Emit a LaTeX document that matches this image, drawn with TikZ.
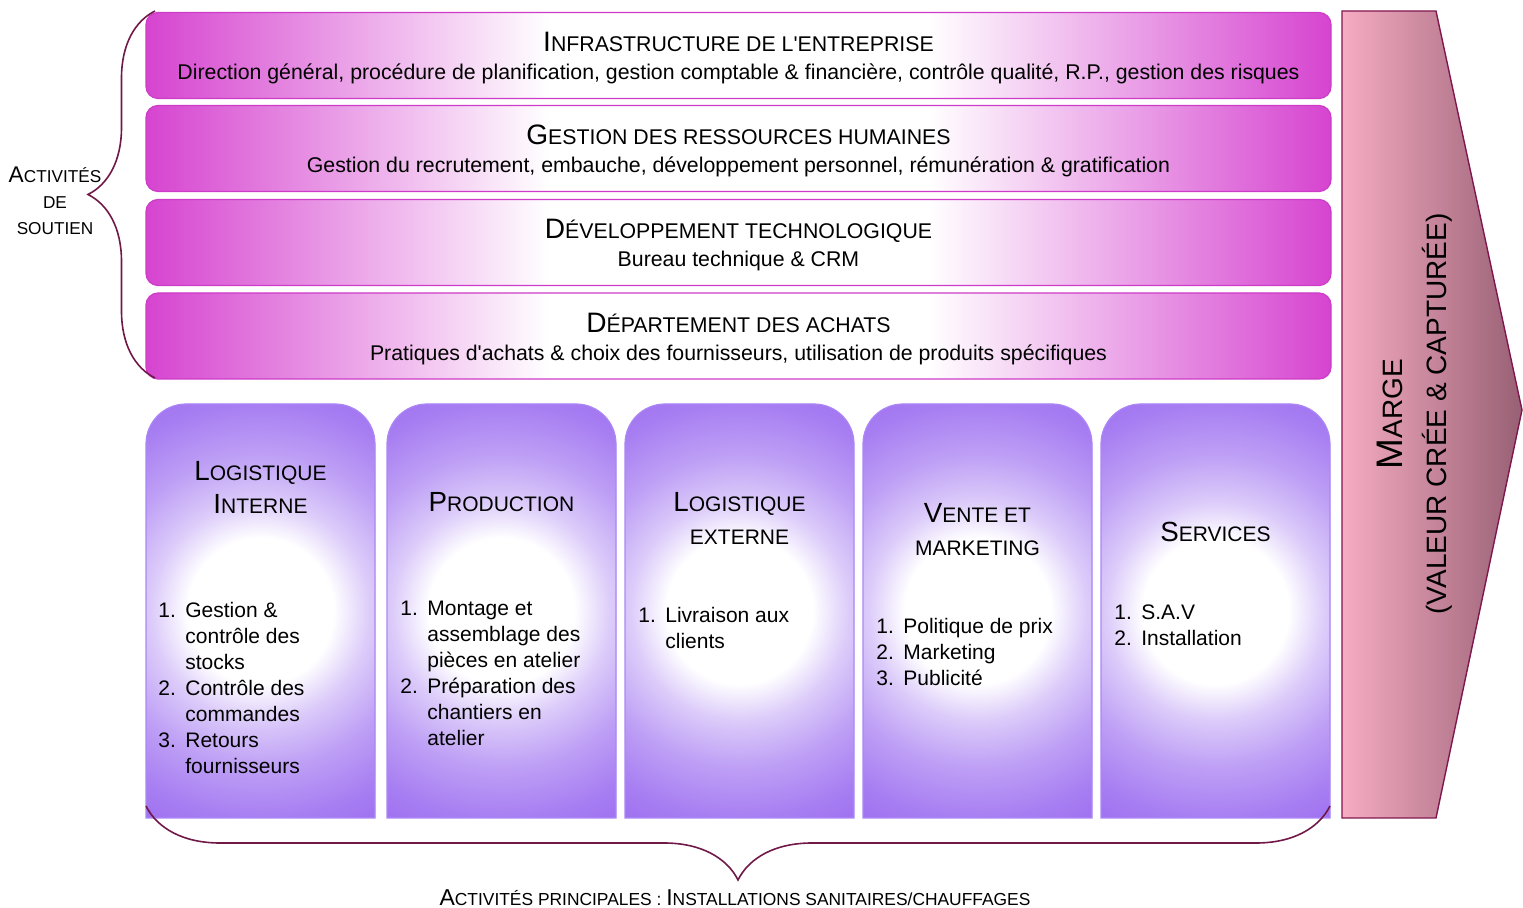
\documentclass[tikz,border=0pt]{standalone}
\usepackage{fontspec}
\usepackage{graphicx}
\setmainfont{Liberation Sans}
\usetikzlibrary{decorations.pathreplacing}

\definecolor{bandmag}{RGB}{214,68,208}
\definecolor{bandline}{RGB}{205,60,200}
\definecolor{colpurple}{RGB}{155,108,240}
\definecolor{colline}{RGB}{172,135,246}
\definecolor{margeL}{RGB}{246,172,194}
\definecolor{margeR}{RGB}{152,96,116}
\definecolor{margeline}{RGB}{128,22,78}
\definecolor{bracecol}{RGB}{112,24,72}

\pgfdeclarehorizontalshading{bandshade}{100bp}{color(0bp)=(bandmag); color(25bp)=(bandmag); color(42bp)=(white); color(58bp)=(white); color(75bp)=(bandmag); color(100bp)=(bandmag)}
\pgfdeclarehorizontalshading{margeshade}{100bp}{color(0bp)=(margeL); color(25bp)=(margeL); color(75bp)=(margeR); color(100bp)=(margeR)}
\pgfdeclareradialshading{colglow}{\pgfpointorigin}{color(0bp)=(white); color(7bp)=(white); color(10.5bp)=(colpurple!35!white); color(15bp)=(colpurple!65!white); color(20bp)=(colpurple!88!white); color(24bp)=(colpurple); color(50bp)=(colpurple)}

% big first letter of the fake small caps
\newcommand\capfirst[1]{\scalebox{1.32}{#1}}
\newcommand\bandhead[1]{{\rule{0pt}{12.5pt}#1}}

\begin{document}
\begin{tikzpicture}[x=0.5pt,y=-0.5pt,
    band/.style={draw=bandline, line width=0.6pt, rounded corners=6pt, shade, shading=bandshade,
      minimum width=592.5pt, minimum height=43pt, align=center, inner sep=0pt,
      font=\fontsize{10.65}{14}\selectfont},
    colbox/.style={draw=colline, line width=0.6pt, fill=colpurple,
      path picture={\shade[shading=colglow] (path picture bounding box.center) circle (130pt);}},
    coltitle/.style={align=center, inner sep=0pt, font=\fontsize{10.5}{16.5}\selectfont},
    collist/.style={anchor=base west, inner sep=0pt, font=\fontsize{10.5}{13}\selectfont},
    marge/.style={draw=margeline, line width=0.7pt, shade, shading=margeshade},
    brace/.style={decorate, draw=bracecol, line width=0.8pt}]
  \useasboundingbox (0,0) rectangle (1523,908);

  % activites de soutien
  \node[band] (infra) at (738.5,55.5) {\bandhead{\capfirst{I}NFRASTRUCTURE DE L\textquotesingle ENTREPRISE}\\
    Direction général, procédure de planification, gestion comptable \& financière, contrôle qualité, R.P., gestion des risques};
  \node[band] (grh) at (738.5,148.5) {\bandhead{\capfirst{G}ESTION DES RESSOURCES HUMAINES}\\
    Gestion du recrutement, embauche, développement personnel, rémunération \& gratification};
  \node[band] (techno) at (738.5,242.5) {\bandhead{\capfirst{D}ÉVELOPPEMENT TECHNOLOGIQUE}\\
    Bureau technique \& CRM};
  \node[band] (achats) at (738.5,336) {\bandhead{\capfirst{D}ÉPARTEMENT DES ACHATS}\\
    Pratiques d\textquotesingle achats \& choix des fournisseurs, utilisation de produits spécifiques};

  % activites principales
  \path[colbox] (146,818) -- (146,500) [rounded corners=20pt] -- (146,404) -- (375,404) -- (375,500) [sharp corners] -- (375,818) -- cycle;
  \path[colbox] (387,818) -- (387,500) [rounded corners=20pt] -- (387,404) -- (616,404) -- (616,500) [sharp corners] -- (616,818) -- cycle;
  \path[colbox] (625,818) -- (625,500) [rounded corners=20pt] -- (625,404) -- (854,404) -- (854,500) [sharp corners] -- (854,818) -- cycle;
  \path[colbox] (863,818) -- (863,500) [rounded corners=20pt] -- (863,404) -- (1092,404) -- (1092,500) [sharp corners] -- (1092,818) -- cycle;
  \path[colbox] (1101,818) -- (1101,500) [rounded corners=20pt] -- (1101,404) -- (1330,404) -- (1330,500) [sharp corners] -- (1330,818) -- cycle;

  \node[coltitle] (logInT) at (260.5,487.5) {\capfirst{L}OGISTIQUE\\\capfirst{I}NTERNE};
  \node[coltitle] (prodT) at (501.5,502) {\capfirst{P}RODUCTION};
  \node[coltitle] (logExT) at (739.5,518) {\capfirst{L}OGISTIQUE\\EXTERNE};
  \node[coltitle] (venteT) at (977.5,529.5) {\capfirst{V}ENTE ET\\MARKETING};
  \node[coltitle] (servT) at (1215.5,532) {\capfirst{S}ERVICES};

  \node[collist] (logInL) at (158,617.5) {\begin{tabular}[t]{@{}p{13.5pt}@{}l@{}}
    1. & Gestion \&\\ & contrôle des\\ & stocks\\
    2. & Contrôle des\\ & commandes\\
    3. & Retours\\ & fournisseurs\end{tabular}};
  \node[collist] (prodL) at (400,615.5) {\begin{tabular}[t]{@{}p{13.5pt}@{}l@{}}
    1. & Montage et\\ & assemblage des\\ & pièces en atelier\\
    2. & Préparation des\\ & chantiers en\\ & atelier\end{tabular}};
  \node[collist] (logExL) at (638,622.5) {\begin{tabular}[t]{@{}p{13.5pt}@{}l@{}}
    1. & Livraison aux\\ & clients\end{tabular}};
  \node[collist] (venteL) at (876,633.5) {\begin{tabular}[t]{@{}p{13.5pt}@{}l@{}}
    1. & Politique de prix\\
    2. & Marketing\\
    3. & Publicité\end{tabular}};
  \node[collist] (servL) at (1114,619.5) {\begin{tabular}[t]{@{}p{13.5pt}@{}l@{}}
    1. & S.A.V\\
    2. & Installation\end{tabular}};

  % marge
  \path[marge] (1342,11) -- (1436,11) -- (1522,410) -- (1436,818) -- (1342,818) -- cycle;
  \node[rotate=90, align=center, font=\fontsize{14}{22}\selectfont] (margeT) at (1415,414)
    {\capfirst{M}ARGE\\(VALEUR CRÉE \& CAPTURÉE)};

  % accolades
  \coordinate (soutienBot) at (155,378);
  \coordinate (soutienTop) at (155,11);
  \coordinate (primR) at (1330,806);
  \coordinate (primL) at (146,806);
  \draw[brace, decoration={brace, amplitude=33.5pt}] (soutienBot) -- (soutienTop);
  \draw[brace, decoration={brace, amplitude=37pt}] (primR) -- (primL);

  \node[align=center, font=\fontsize{8.6}{13}\selectfont] (soutien) at (55,201)
    {\capfirst{A}CTIVITÉS\\DE\\SOUTIEN};
  \node[font=\fontsize{8.7}{10}\selectfont] (principales) at (735,898)
    {\capfirst{A}CTIVITÉS PRINCIPALES : \capfirst{I}NSTALLATIONS SANITAIRES/CHAUFFAGES};
\end{tikzpicture}
\end{document}
